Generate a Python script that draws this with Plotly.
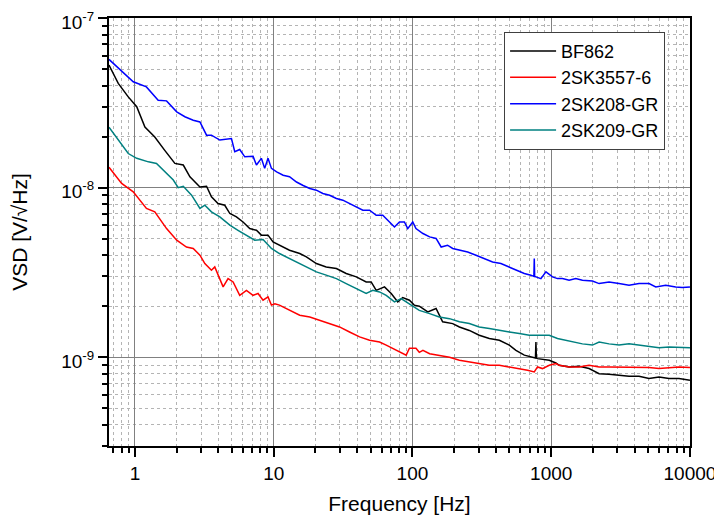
import plotly.graph_objects as go

# ---- data ----
bf862_f = [0.65, 0.758, 0.895, 1.03, 1.18, 1.39, 1.64, 1.94, 2.23, 2.49, 2.94, 3.28, 3.56, 3.97, 4.44,
           4.83, 5.39, 6.01, 6.72, 7.51, 8.15, 9.10, 9.89, 11.0, 13.0, 15.4, 17.2, 20.3, 23.9, 28.3,
           33.3, 39.4, 46.4, 50.4, 54.8, 62.9, 70.3, 78.4, 85.1, 95.1, 103, 112, 129, 148, 165, 195,
           218, 257, 303, 358, 423, 499, 557, 640, 733, 770, 776, 782, 797, 865, 968, 1080, 1142, 1346,
           1589, 1875, 2215, 2612, 3083, 3639, 4296, 5071, 5985, 7066, 8337, 10000]
bf862_v = [52.8, 41.2, 34.3, 30.0, 22.8, 19.9, 16.6, 13.9, 13.6, 11.6, 10.1, 10.2, 8.83, 8.07, 7.88,
           7.04, 6.73, 6.28, 5.74, 5.61, 5.25, 5.25, 4.79, 4.58, 4.28, 4.09, 3.91, 3.57, 3.41, 3.34,
           3.12, 2.98, 2.78, 2.78, 2.48, 2.60, 2.38, 2.12, 2.25, 2.17, 2.03, 2.00, 1.85, 1.94, 1.62, 1.58,
           1.51, 1.44, 1.35, 1.29, 1.26, 1.18, 1.10, 1.03, 1.00, 0.99, 1.23, 0.99, 0.982, 0.969, 0.960, 0.926, 0.897, 0.877,
           0.885, 0.858, 0.801, 0.794, 0.783, 0.773, 0.773, 0.749, 0.765, 0.749, 0.749, 0.732]

sk3557_f = [0.65, 0.802, 0.972, 1.21, 1.39, 1.69, 2.0, 2.35, 2.63, 2.94, 3.19, 3.56, 3.76, 4.32, 4.69,
            5.10, 5.69, 6.36, 7.10, 7.71, 8.38, 9.10, 9.63, 10.2, 11.0, 13.0, 15.4, 18.2, 21.4, 25.3,
            29.8, 35.2, 41.6, 49.1, 57.9, 64.7, 72.2, 80.6, 90.1, 95.1, 106, 112, 119, 133, 156, 185,
            218, 257, 303, 358, 423, 499, 589, 675, 755, 797, 865, 968, 1080, 1142, 1346, 1589, 1875,
            2215, 2612, 3083, 3639, 4296, 5071, 5985, 7066, 8337, 10000]
sk3557_v = [13.2, 10.6, 9.45, 7.54, 7.20, 5.74, 4.90, 4.47, 4.38, 4.00, 3.57, 3.26, 3.41, 2.60, 2.91,
            2.78, 2.32, 2.48, 2.32, 2.38, 2.17, 2.27, 2.03, 2.07, 2.03, 1.89, 1.77, 1.73, 1.65, 1.58,
            1.51, 1.41, 1.32, 1.26, 1.23, 1.18, 1.13, 1.07, 1.03, 1.13, 1.13, 1.07, 1.10, 1.05, 1.03, 1.00,
            0.960, 0.938, 0.918, 0.897, 0.897, 0.877, 0.858, 0.838, 0.819, 0.877, 0.858, 0.897, 0.918, 0.897, 0.877, 0.877, 0.897,
            0.877, 0.877, 0.877, 0.870, 0.877, 0.870, 0.858, 0.870, 0.877, 0.870]

sk208_f = [0.65, 0.972, 1.21, 1.47, 1.69, 2.0, 2.29, 2.63, 2.94, 3.28, 3.56, 4.09, 4.96, 5.24, 5.69,
           6.19, 7.10, 7.51, 8.15, 8.61, 9.10, 9.63, 10.5, 11.7, 13.0, 14.6, 16.3, 18.2, 20.3, 22.6,
           25.3, 28.3, 31.5, 35.2, 39.4, 43.9, 49.1, 54.8, 61.1, 68.3, 74.2, 80.6, 87.5, 92.5, 100.5,
           106, 119, 133, 148, 161, 179, 195, 218, 250, 287, 330, 378, 434, 499, 572, 640, 714, 750, 755,
           760, 776, 843, 916, 1022, 1110, 1205, 1346, 1503, 1679, 1982, 2215, 2612, 3083, 3639, 4296,
           5071, 5667, 6685, 7890, 8813, 10000]
sk208_v = [57.1, 42.1, 39.3, 32.8, 32.5, 28.0, 26.2, 25.0, 24.4, 20.4, 20.4, 19.1, 19.5, 16.3, 16.8,
           15.2, 15.3, 13.6, 14.9, 13.0, 14.9, 13.0, 12.4, 11.85, 11.6, 10.8, 10.3, 9.89, 9.67, 9.24,
           9.03, 8.64, 8.44, 8.07, 7.70, 7.37, 7.37, 6.88, 6.88, 6.28, 5.87, 6.28, 6.28, 5.74, 6.28,
           5.74, 5.37, 5.13, 5.02, 4.47, 4.58, 4.38, 4.28, 4.18, 4.00, 3.82, 3.65, 3.57, 3.41, 3.26, 3.12, 3.05, 3.0, 3.82,
           3.0, 2.98, 2.91, 3.19, 2.98, 2.91, 2.91, 2.85, 2.91, 2.85, 2.82, 2.72, 2.78, 2.72, 2.66, 2.72,
           2.72, 2.60, 2.66, 2.60, 2.58, 2.60]

sk209_f = [0.65, 0.758, 0.895, 1.03, 1.25, 1.43, 1.64, 1.89, 2.05, 2.23, 2.56, 2.94, 3.19, 3.56, 4.09,
           4.83, 5.53, 6.36, 7.30, 8.38, 9.63, 11.0, 13.0, 15.4, 17.2, 20.3, 23.9, 28.3, 33.3, 39.4,
           46.4, 51.8, 57.9, 64.7, 74.2, 82.9, 95.1, 106, 112, 133, 156, 185, 218, 257, 303, 358, 423,
           499, 589, 695, 843, 968, 1110, 1274, 1503, 1679, 1982, 2215, 2612, 3083, 3639, 4296, 5071,
           5985, 7066, 8337, 10000]
sk209_v = [22.7, 19.1, 15.9, 14.9, 14.2, 13.9, 12.4, 11.1, 10.0, 10.2, 9.03, 7.54, 7.88, 7.20, 6.73,
           6.01, 5.61, 5.25, 4.90, 4.95, 4.38, 4.09, 3.82, 3.57, 3.41, 3.19, 3.05, 2.91, 2.72, 2.54,
           2.38, 2.48, 2.43, 2.32, 2.12, 2.22, 2.07, 1.94, 1.89, 1.81, 1.73, 1.69, 1.62, 1.58, 1.51, 1.48, 1.44,
           1.41, 1.38, 1.35, 1.35, 1.35, 1.29, 1.26, 1.23, 1.20, 1.18, 1.23, 1.20, 1.18, 1.20, 1.18, 1.16,
           1.14, 1.15, 1.15, 1.14]

UNIT = 1e-9  # values above are in nV/sqrt(Hz)

series = [
    ("BF862", bf862_f, bf862_v, "#000000"),
    ("2SK3557-6", sk3557_f, sk3557_v, "#ff0000"),
    ("2SK208-GR", sk208_f, sk208_v, "#0000ff"),
    ("2SK209-GR", sk209_f, sk209_v, "#008080"),
]

x_ticks = [1, 10, 100, 1000, 10000]
x_ticktext = ["1", "10", "100", "1000", "10000"]
y_ticks = [1e-9, 1e-8, 1e-7]
y_ticktext = ["10<sup>-9</sup>", "10<sup>-8</sup>", "10<sup>-7</sup>"]

x_minor = [m * 10 ** e for e in range(-1, 4) for m in range(2, 10)]
y_minor = [m * 10.0 ** e for e in range(-10, -7) for m in range(2, 10)]

FONT = "Liberation Sans, Arial, sans-serif"

fig = go.Figure()
for name, f, v, col in series:
    fig.add_trace(go.Scatter(x=f, y=[val * UNIT for val in v], mode="lines", name=name,
                             line=dict(color=col, width=1.5)))

axis_common = dict(
    type="log", showline=True, linecolor="black", linewidth=2, mirror=True,
    ticks="outside", ticklen=9, tickwidth=2, tickcolor="black",
    showgrid=True, gridcolor="#808080", gridwidth=1, zeroline=False,
    tickfont=dict(family=FONT, size=19, color="black"),
    ticklabeloverflow="allow",
)

fig.update_xaxes(
    **axis_common,
    range=[-0.187, 4.0003],
    tickmode="array", tickvals=x_ticks, ticktext=x_ticktext,
    minor=dict(tickmode="array", tickvals=x_minor, ticks="outside", ticklen=5, tickwidth=2,
               tickcolor="black", showgrid=True, gridcolor="#b4b4b4", griddash="dot", gridwidth=1),
    title=dict(text="Frequency [Hz]", font=dict(family=FONT, size=21, color="black"), standoff=14),
)
fig.update_yaxes(
    **axis_common,
    range=[-9.523, -6.9995],
    tickmode="array", tickvals=y_ticks, ticktext=y_ticktext,
    ticklabelshift=4,
    minor=dict(tickmode="array", tickvals=y_minor, ticks="outside", ticklen=5, tickwidth=2,
               tickcolor="black", showgrid=True, gridcolor="#b4b4b4", griddash="dot", gridwidth=1),
    title=dict(text="VSD [V/√Hz]", font=dict(family=FONT, size=21, color="black"), standoff=28),
)

# page body has an 8px margin, so the figure is sized to fill the 722x522 window from there
fig.update_layout(
    width=714, height=514,
    margin=dict(l=101, r=32, t=10, b=76, autoexpand=False),
    paper_bgcolor="white", plot_bgcolor="white",
    font=dict(family=FONT, color="black"),
    showlegend=True,
    legend=dict(x=0.68, y=0.968, xanchor="left", yanchor="top",
                bgcolor="white", bordercolor="#404040", borderwidth=1,
                font=dict(family=FONT, size=18, color="black"),
                tracegroupgap=0, itemwidth=46),
)

fig.write_html("out.html")
